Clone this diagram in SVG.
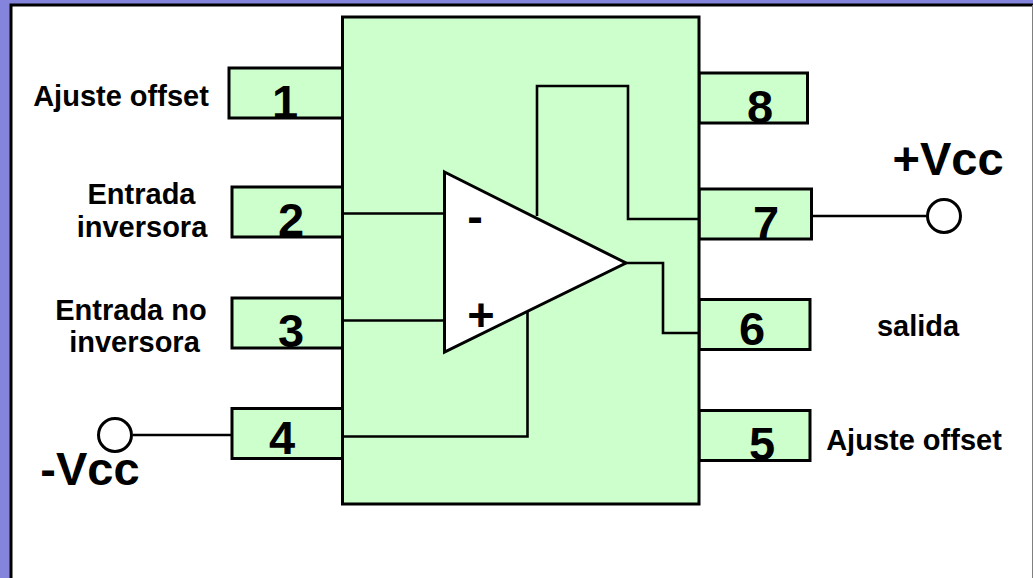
<svg xmlns="http://www.w3.org/2000/svg" width="1033" height="578" viewBox="0 0 1033 578">
<style>
.b{fill:#ccffcc;stroke:#000;stroke-width:3}
.w{fill:#fff;stroke:#000;stroke-width:3}
.c{fill:none;stroke:#000;stroke-width:2.6}
text{font-family:"Liberation Sans",Arial,sans-serif;font-weight:700;fill:#000;text-anchor:middle}
.n{font-size:47px}
.l{font-size:29px}
</style>
<rect x="0" y="0" width="1033" height="578" fill="#8484dc"/>
<rect x="11" y="5" width="1040" height="600" fill="#fff" stroke="#000" stroke-width="3"/>
<rect x="1032" y="5" width="1" height="573" fill="#808080"/>
<g id="pin1"><rect class="b" x="229" y="68" width="113.500" height="50"/><text class="n" x="285" y="117.500">1</text></g>
<g id="pin2"><rect class="b" x="232" y="187" width="110.500" height="50"/><text class="n" x="291" y="236">2</text></g>
<g id="pin3"><rect class="b" x="232" y="298" width="110.500" height="50"/><text class="n" x="291" y="347">3</text></g>
<g id="pin4"><rect class="b" x="232" y="408.500" width="110.500" height="50"/><text class="n" x="282" y="454">4</text></g>
<g id="pin8"><rect class="b" x="699" y="73" width="108.500" height="50"/><text class="n" x="760" y="123">8</text></g>
<g id="pin7"><rect class="b" x="699" y="189" width="112.500" height="50"/><text class="n" x="766" y="239">7</text></g>
<g id="pin6"><rect class="b" x="699" y="299.500" width="111" height="50"/><text class="n" x="752" y="345">6</text></g>
<g id="pin5"><rect class="b" x="699" y="410.500" width="111" height="50"/><text class="n" x="762" y="460">5</text></g>
<g id="chip"><rect class="b" x="342.500" y="17" width="356.500" height="487"/></g>
<g id="connectors">
<path class="c" d="M342.500 213.500H444.500"/>
<path class="c" d="M342.500 320.500H444.500"/>
<path class="c" d="M537 216V86H628V219H699"/>
<path class="c" d="M626 263H663V333H699"/>
<path class="c" d="M342.500 436.500H527.500V311"/>
<path class="c" d="M133 435H232"/>
<path class="c" d="M812 216H928"/>
</g>
<g id="opamp"><path class="w" d="M444.500 172L626 263L444.500 352Z"/><text class="n" x="475" y="232">-</text><text class="n" x="481" y="331">+</text></g>
<g id="vminus"><circle class="w" cx="115" cy="435" r="16.500"/><text class="n" x="90" y="485">-Vcc</text></g>
<g id="vplus"><circle class="w" cx="944" cy="216" r="16.500"/><text class="n" x="948" y="175">+Vcc</text></g>
<text class="l" x="121" y="106">Ajuste offset</text>
<text class="l" x="141.500" y="204">Entrada</text>
<text class="l" x="142" y="237">inversora</text>
<text class="l" x="131" y="320">Entrada no</text>
<text class="l" x="134.500" y="352">inversora</text>
<text class="l" x="918" y="336">salida</text>
<text class="l" x="914" y="450">Ajuste offset</text>
</svg>
